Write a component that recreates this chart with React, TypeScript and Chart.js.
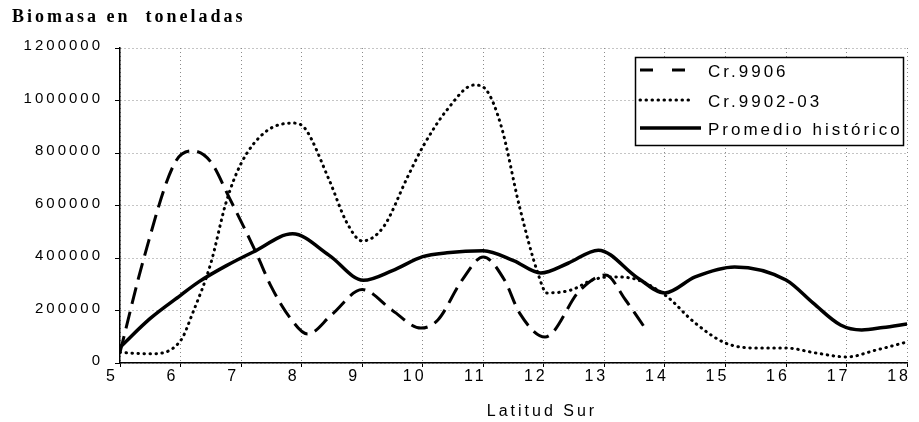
import React, { useEffect, useRef } from 'react';
import { Chart, registerables } from 'chart.js';

Chart.register(...registerables);

const yAxisTitle = 'Biomasa en  toneladas';
const xAxisTitle = 'Latitud Sur';
const seriesNames = ['Cr.9906', 'Cr.9902-03', 'Promedio histórico'];

const cr9906Lat = [5, 5.4, 5.9, 6.2, 6.5, 6.8, 7.25, 7.5, 7.8, 8.1, 8.5, 9.0, 9.5, 9.97, 10.25, 10.65, 11.0, 11.35, 11.6, 12.02, 12.6, 13.02, 13.35, 13.66];
const cr9906Val = [40000, 404000, 760000, 808000, 766000, 632000, 419000, 290000, 175000, 110000, 185000, 280000, 200000, 133000, 164000, 316000, 404000, 316000, 190000, 99000, 278000, 335000, 240000, 137000];

const cr9902Lat = [5, 5.5, 6.0, 6.2, 6.5, 6.75, 7.0, 7.4, 7.85, 8.05, 8.45, 8.75, 9.0, 9.35, 9.75, 10.0, 10.4, 10.85, 11.05, 11.3, 11.6, 11.9, 12.05, 12.45, 12.8, 13.1, 13.4, 14.0, 14.5, 15.0, 15.5, 16.0, 16.5, 17.0, 17.5, 18.0];
const cr9902Val = [40000, 35000, 85000, 190000, 380000, 610000, 760000, 880000, 914000, 895000, 700000, 533000, 465000, 518000, 709000, 823000, 964000, 1059000, 1040000, 899000, 594000, 343000, 267000, 278000, 316000, 328000, 325000, 259000, 152000, 76000, 57000, 57000, 38000, 23000, 50000, 80000];

const promLat = [5, 5.5, 6.0, 6.3, 6.75, 7.2, 7.85, 8.45, 9.02, 9.5, 10.0, 10.4, 11.0, 11.5, 11.95, 12.4, 12.9, 13.55, 14.0, 14.5, 15.15, 16.0, 16.45, 16.9, 17.25, 17.6, 18.0];
const promVal = [60000, 170000, 258000, 309000, 370000, 423000, 492000, 411000, 315000, 352000, 405000, 420000, 428000, 390000, 343000, 380000, 430000, 324000, 267000, 328000, 366000, 316000, 228000, 145000, 126000, 135000, 149000];

const xMin = 5;
const xMax = 18;
const yMax = 1200000;
const yStep = 200000;

const toPoints = (xs: number[], ys: number[]) => xs.map((x, i) => ({ x, y: ys[i] }));

export default function App() {
  const ref = useRef<HTMLCanvasElement>(null);

  useEffect(() => {
    document.body.style.margin = '0';
    const canvas = ref.current;
    if (!canvas) return;

    const setSpacing = (chart: any) => {
      (chart.ctx as any).letterSpacing = '3px';
    };

    const legendStyles = [
      { dash: [13, 19], width: 3, cap: 'butt', end: 690 },
      { dash: [0.5, 5.5], width: 3, cap: 'round', end: 690 },
      { dash: [], width: 3.5, cap: 'butt', end: 701 },
    ];

    const textPlugin = {
      id: 'textPlugin',
      beforeUpdate: setSpacing,
      beforeLayout: setSpacing,
      beforeDraw: setSpacing,
      afterDraw(chart: any) {
        const ctx = chart.ctx as CanvasRenderingContext2D;
        ctx.save();
        (ctx as any).letterSpacing = '3px';
        ctx.fillStyle = '#000';
        ctx.textAlign = 'left';
        ctx.textBaseline = 'alphabetic';
        ctx.font = 'bold 18px "Liberation Serif"';
        ctx.fillText(yAxisTitle, 12, 22);
        ctx.font = '16px "Liberation Sans"';
        ctx.textAlign = 'center';
        ctx.fillText(xAxisTitle, 542, 416);

        // legend box
        ctx.fillStyle = '#fff';
        ctx.fillRect(635, 57, 268, 88);
        ctx.strokeStyle = '#000';
        ctx.lineWidth = 1.5;
        ctx.setLineDash([]);
        ctx.strokeRect(635.5, 57.5, 268, 88);
        const rowsY = [70, 100, 128];
        ctx.font = '17px "Liberation Sans"';
        ctx.textAlign = 'left';
        ctx.fillStyle = '#000';
        seriesNames.forEach((name, i) => {
          const st = legendStyles[i];
          ctx.beginPath();
          ctx.setLineDash(st.dash);
          ctx.lineWidth = st.width;
          ctx.lineCap = st.cap as CanvasLineCap;
          ctx.moveTo(640, rowsY[i]);
          ctx.lineTo(st.end, rowsY[i]);
          ctx.stroke();
          ctx.setLineDash([]);
          ctx.fillText(name, 708, rowsY[i] + 7);
        });
        ctx.restore();
      },
    };

    const chart = new Chart(canvas, {
      type: 'line',
      data: {
        datasets: [
          {
            label: seriesNames[0],
            data: toPoints(cr9906Lat, cr9906Val),
            borderColor: '#000',
            borderWidth: 3,
            borderDash: [17, 8],
            pointRadius: 0,
            cubicInterpolationMode: 'monotone',
            fill: false,
          },
          {
            label: seriesNames[1],
            data: toPoints(cr9902Lat, cr9902Val),
            borderColor: '#000',
            borderWidth: 3,
            borderDash: [0.5, 5.5],
            borderCapStyle: 'round',
            pointRadius: 0,
            cubicInterpolationMode: 'monotone',
            fill: false,
          },
          {
            label: seriesNames[2],
            data: toPoints(promLat, promVal),
            borderColor: '#000',
            borderWidth: 3.5,
            pointRadius: 0,
            cubicInterpolationMode: 'monotone',
            fill: false,
          },
        ],
      },
      options: {
        responsive: false,
        animation: false,
        devicePixelRatio: 1,
        layout: { padding: { left: 0, right: 11, top: 48, bottom: 0 } },
        plugins: {
          legend: { display: false },
          title: { display: false },
          tooltip: { enabled: false },
        },
        scales: {
          x: {
            type: 'linear',
            min: xMin,
            max: xMax,
            afterFit: (scale: any) => {
              scale.height = 59;
            },
            ticks: {
              stepSize: 1,
              color: '#000',
              font: { family: '"Liberation Sans"', size: 16 },
              padding: 0,
              labelOffset: -8,
              maxRotation: 0,
              autoSkip: false,
              callback: (v: any) => String(v),
            },
            grid: {
              color: '#8a8a8a',
              lineWidth: 1,
              drawTicks: true,
              tickLength: 4,
              tickColor: '#000',
            },
            border: { display: true, color: '#000', width: 1.5, dash: [1, 3] },
          },
          y: {
            min: 0,
            max: yMax,
            afterFit: (scale: any) => {
              scale.width = 120;
            },
            ticks: {
              stepSize: yStep,
              color: '#000',
              font: { family: '"Liberation Sans"', size: 15 },
              padding: 12,
              labelOffset: -2,
              callback: (v: any) => String(v),
            },
            grid: {
              color: '#8a8a8a',
              lineWidth: 1,
              drawTicks: true,
              tickLength: 5,
              tickColor: '#000',
            },
            border: { display: true, color: '#000', width: 1.5, dash: [1, 3] },
          },
        },
      } as any,
      plugins: [textPlugin as any],
    });

    return () => {
      chart.destroy();
    };
  }, []);

  return (
    <div style={{ width: 919, height: 422 }}>
      <canvas ref={ref} width={919} height={422} style={{ display: 'block' }} />
    </div>
  );
}
